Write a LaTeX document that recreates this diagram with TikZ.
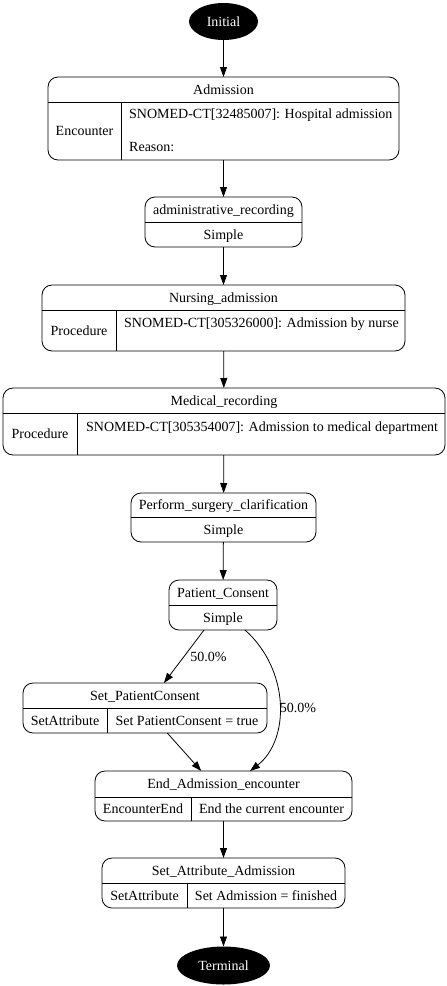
\documentclass[tikz,border=0pt]{standalone}
\usepackage{fontspec}
\setmainfont{Liberation Serif}
\usepackage{tikz}
\usetikzlibrary{arrows.meta,positioning,shapes.geometric}

\tikzset{
  rec/.style={draw, line width=0.8pt, rounded corners=10pt, rectangle, inner sep=0pt, outer sep=0pt},
  term/.style={ellipse, fill=black, text=white, inner sep=0pt, outer sep=0pt},
  lbl/.style={inner sep=0pt, text height=10pt, text depth=1pt},
  sep/.style={line width=0.8pt},
  trans/.style={-{Triangle[length=10pt,width=7pt]}, line width=0.8pt}
}

\begin{document}
\begin{tikzpicture}[x=1pt, y=-1pt, font=\fontsize{14pt}{16pt}\selectfont]
\useasboundingbox (0,0) rectangle (447,986);
% nodes
 \node[term, minimum width=69pt, minimum height=37pt] (initial) at (223.5,21.5) {Initial};

 \node[rec, minimum width=351pt, minimum height=83pt] (admission) at (223.5,118.5) {};
 \draw[sep] (48,102) -- (399,102);
 \draw[sep] (121,102) -- (121,160);
 \node[lbl] (admission-head) at (223.5,89.5) {Admission};
 \node[lbl] (admission-type) at (84.5,131) {Encounter};
 \node[lbl, anchor=west] (admission-code) at (129,114) {SNOMED-CT[32485007]: Hospital admission};
 \node[lbl, anchor=west] (admission-reason) at (129,147) {Reason:};

 \node[rec, minimum width=157pt, minimum height=50pt] (adminrec) at (223.5,222) {};
 \draw[sep] (145,222.5) -- (302,222.5);
 \node[lbl] (adminrec-head) at (223.5,210) {administrative\_recording};
 \node[lbl] (adminrec-type) at (223.5,235) {Simple};

 \node[rec, minimum width=363pt, minimum height=66pt] (nursing) at (223.5,318) {};
 \draw[sep] (42,310) -- (405,310);
 \draw[sep] (116,310) -- (116,351);
 \node[lbl] (nursing-head) at (223.5,297.5) {Nursing\_admission};
 \node[lbl] (nursing-type) at (79,330.5) {Procedure};
 \node[lbl, anchor=west] (nursing-code) at (124,323) {SNOMED-CT[305326000]: Admission by nurse};

 \node[rec, minimum width=442pt, minimum height=67pt] (medical) at (224,421.5) {};
 \draw[sep] (3,413) -- (445,413);
 \draw[sep] (77,413) -- (77,455);
 \node[lbl] (medical-head) at (224,400.5) {Medical\_recording};
 \node[lbl] (medical-type) at (40,434) {Procedure};
 \node[lbl, anchor=west] (medical-code) at (86,427) {SNOMED-CT[305354007]: Admission to medical department};

 \node[rec, minimum width=185pt, minimum height=49pt] (surgery) at (223.5,517.5) {};
 \draw[sep] (131,517) -- (316,517);
 \node[lbl] (surgery-head) at (223.5,505) {Perform\_surgery\_clarification};
 \node[lbl] (surgery-type) at (223.5,529.5) {Simple};

 \node[rec, minimum width=108pt, minimum height=50pt] (consent) at (223,605) {};
 \draw[sep] (169,605) -- (277,605);
 \node[lbl] (consent-head) at (223,592.5) {Patient\_Consent};
 \node[lbl] (consent-type) at (223,617.5) {Simple};

 \node[rec, minimum width=244pt, minimum height=50pt] (setconsent) at (145,708) {};
 \draw[sep] (23,708) -- (267,708);
 \draw[sep] (107,708) -- (107,733);
 \node[lbl] (setconsent-head) at (145,695.5) {Set\_PatientConsent};
 \node[lbl] (setconsent-type) at (65,720.5) {SetAttribute};
 \node[lbl] (setconsent-value) at (187,720.5) {Set PatientConsent = true};

 \node[rec, minimum width=257pt, minimum height=50pt] (endenc) at (223.5,796) {};
 \draw[sep] (95,797) -- (352,797);
 \draw[sep] (191,797) -- (191,821);
 \node[lbl] (endenc-head) at (223.5,784) {End\_Admission\_encounter};
 \node[lbl] (endenc-type) at (143,809) {EncounterEnd};
 \node[lbl] (endenc-value) at (271.5,809) {End the current encounter};

 \node[rec, minimum width=243pt, minimum height=50pt] (setadm) at (223.5,883) {};
 \draw[sep] (102,883) -- (345,883);
 \draw[sep] (187,883) -- (187,908);
 \node[lbl] (setadm-head) at (223.5,870.5) {Set\_Attribute\_Admission};
 \node[lbl] (setadm-type) at (144.5,895.5) {SetAttribute};
 \node[lbl] (setadm-value) at (266,895.5) {Set Admission = finished};

 \node[term, minimum width=93pt, minimum height=38pt] (terminal) at (223.5,965.5) {Terminal};

% edges
 \draw[trans] (initial) -- (admission);
 \draw[trans] (admission) -- (adminrec);
 \draw[trans] (adminrec) -- (nursing);
 \draw[trans] (nursing) -- (medical);
 \draw[trans] (medical) -- (surgery);
 \draw[trans] (surgery) -- (consent);
 \draw[trans] (consent) -- node[lbl, anchor=west, xshift=6pt] (p-left) {50.0\%} (setconsent);
 \draw[trans] ([xshift=22pt]consent.south) .. controls (290,670) and (290,740) .. node[lbl, anchor=west, yshift=-4pt] (p-right) {50.0\%} ([xshift=26.5pt]endenc.north);
 \draw[trans] (setconsent) -- (endenc);
 \draw[trans] (endenc) -- (setadm);
 \draw[trans] (setadm) -- (terminal);
\end{tikzpicture}
\end{document}
